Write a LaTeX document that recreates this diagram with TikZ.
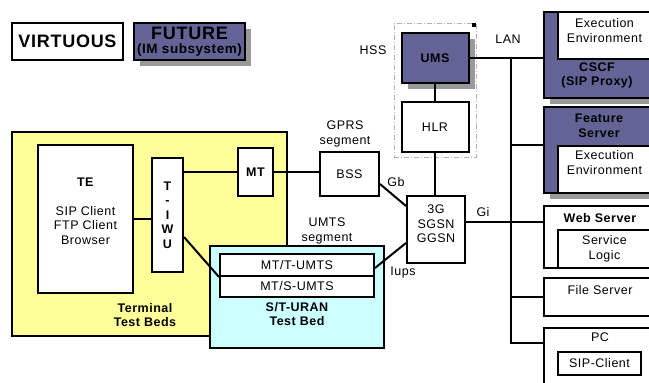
\documentclass[tikz,border=0pt]{standalone}
\usepackage{fontspec}
\setmainfont{Liberation Sans}[LetterSpace=4]
\usepackage{xcolor}
\usetikzlibrary{positioning,shadows}

\definecolor{imblue}{RGB}{100,99,150}
\definecolor{tbyellow}{RGB}{255,255,153}
\definecolor{urancyan}{RGB}{204,255,255}
\definecolor{shadowgrey}{RGB}{153,153,153}

\begin{document}
\begin{tikzpicture}[
  x=1pt, y=-1pt,
  every node/.style={font=\fontsize{12.5}{14.5}\selectfont, inner sep=0pt, align=center},
  sz/.style 2 args={minimum width=#1, minimum height=#2},
  netbox/.style={draw, line width=2pt, fill=white},
  imbox/.style={netbox, fill=imblue},
  boxshadow/.style={drop shadow={shadow xshift=6pt, shadow yshift=-6pt, fill=shadowgrey, opacity=1}},
  boldlbl/.style={font=\fontsize{12.5}{14.5}\selectfont\bfseries},
  hssframe/.style={draw=gray!60, line width=0.7pt, dash pattern=on 5pt off 2pt on 1pt off 2pt},
  wire/.style={line width=2pt}]
\useasboundingbox (0,0) rectangle (649,383);
\clip (0,0) rectangle (649,383);

% legend
\node[netbox, sz={111pt}{37pt}, font=\fontsize{18}{20}\selectfont\bfseries] (virtuous) at (67.5,41.5) {VIRTUOUS};
\node[imbox, boxshadow, sz={111pt}{37pt}] (future) at (189.5,41.5)
  {{\fontsize{18}{17}\selectfont\bfseries FUTURE}\\{\fontsize{13.5}{14}\selectfont\bfseries(IM subsystem)}};

% terminal test beds
\node[netbox, fill=tbyellow, sz={275pt}{204pt}] (terminal) at (149.5,234) {};
\node[boldlbl] (terminallbl) at (145,315) {Terminal\\Test Beds};
\node[netbox, sz={95pt}{148pt}] (te) at (85.5,219) {};
\node (tetext) at (85.5,211) {\textbf{TE}\\[14.5pt]SIP Client\\FTP Client\\Browser};
\node[netbox, boldlbl, sz={31pt}{114pt}] (tiwu) at (167.5,215) {T\\-\\I\\W\\U};
\node[netbox, boldlbl, sz={35pt}{48pt}] (mt) at (255.5,172) {MT};

% S/T-URAN test bed
\node[netbox, fill=urancyan, sz={174pt}{102pt}] (uran) at (297,297) {};
\node[boldlbl] (uranlbl) at (297,314) {S/T-URAN\\Test Bed};
\node[netbox, sz={154pt}{22pt}] (mtt) at (297,265) {MT/T-UMTS};
\node[netbox, sz={154pt}{21pt}] (mts) at (297,286.5) {MT/S-UMTS};

% core network
\node[netbox, sz={59pt}{44pt}] (bss) at (349.5,174) {BSS};
\node (gprslbl) at (345,134) {GPRS\\segment};
\node (umtslbl) at (327,231) {UMTS\\segment};
\node[hssframe, sz={82pt}{134pt}] (hss) at (435,90) {};
\fill (472,23) rectangle (476,27);
\node (hsslbl) at (373,50) {HSS};
\node[imbox, boxshadow, boldlbl, sz={67pt}{50pt}] (ums) at (435,58) {UMS};
\node[netbox, sz={67pt}{50pt}] (hlr) at (435,127) {HLR};
\node[netbox, sz={58pt}{67pt}] (sgsn) at (436,229.5) {};
\node (sgsntext) at (436,224) {3G\\SGSN\\GGSN};
\node (gblbl) at (396,182) {Gb};
\node (iupslbl) at (403,272) {Iups};
\node (gilbl) at (483,212) {Gi};
\node (lanlbl) at (508,39) {LAN};

% servers on the LAN
\node[imbox, boxshadow, sz={107pt}{86pt}] (cscf) at (597.5,55) {};
\node[netbox, sz={93pt}{47pt}] (cscfexec) at (604.5,35.5) {};
\node (cscfexectxt) at (604.5,30.5) {Execution\\Environment};
\node[boldlbl] (cscflbl) at (597,75.5) {CSCF\\(SIP Proxy)};

\node[imbox, boxshadow, sz={107pt}{86pt}] (feature) at (597.5,150) {};
\node[netbox, sz={93pt}{47pt}] (featexec) at (604.5,169.5) {};
\node (featexectxt) at (604.5,162.5) {Execution\\Environment};
\node[boldlbl] (featlbl) at (599,126) {Feature\\Server};

\node[netbox, sz={107pt}{62pt}] (web) at (597.5,237) {};
\node[boldlbl] (weblbl) at (600,218) {Web Server};
\node[netbox, sz={93pt}{38pt}] (svc) at (604.5,249) {Service\\Logic};

\node[netbox, sz={107pt}{38pt}] (file) at (597.5,297) {};
\node (filelbl) at (600,290) {File Server};

\node[netbox, sz={107pt}{72pt}] (pc) at (597.5,364) {};
\node (pclbl) at (600,337) {PC};
\node[netbox, sz={83pt}{23pt}] (sipclient) at (599.5,363.5) {SIP-Client};

% connectors
\coordinate (bus) at (511,343);
\coordinate (gi) at ([yshift=7.5pt]sgsn.east);
\draw[wire] (te.east) -- (te.east -| tiwu.west);
\draw[wire] (mt.west -| tiwu.east) -- (mt.west);
\draw[wire] (mt.east) -- (mt.east -| bss.west);
\draw[wire] ([yshift=-22pt]tiwu.east) -- (mtt.south west);
\draw[wire] ([yshift=-10pt]bss.east) -- ([yshift=-11pt]sgsn.north west);
\draw[wire] ([yshift=-3pt]mtt.east) -- ([yshift=-13.5pt]sgsn.west);
\draw[wire] (ums.south) -- (hlr.north);
\draw[wire] (hlr.south) -- (hlr.south |- sgsn.north);
\draw[wire] (ums.east) -- (ums.east -| cscf.west);
\draw[wire] (bus |- ums.east) -- (bus) -- (bus -| pc.west);
\draw[wire] (bus |- featexec.north) -- (feature.west |- featexec.north);
\draw[wire] (gi) -- (gi -| web.west);
\draw[wire] (bus |- file.west) -- (file.west);
\end{tikzpicture}
\end{document}
